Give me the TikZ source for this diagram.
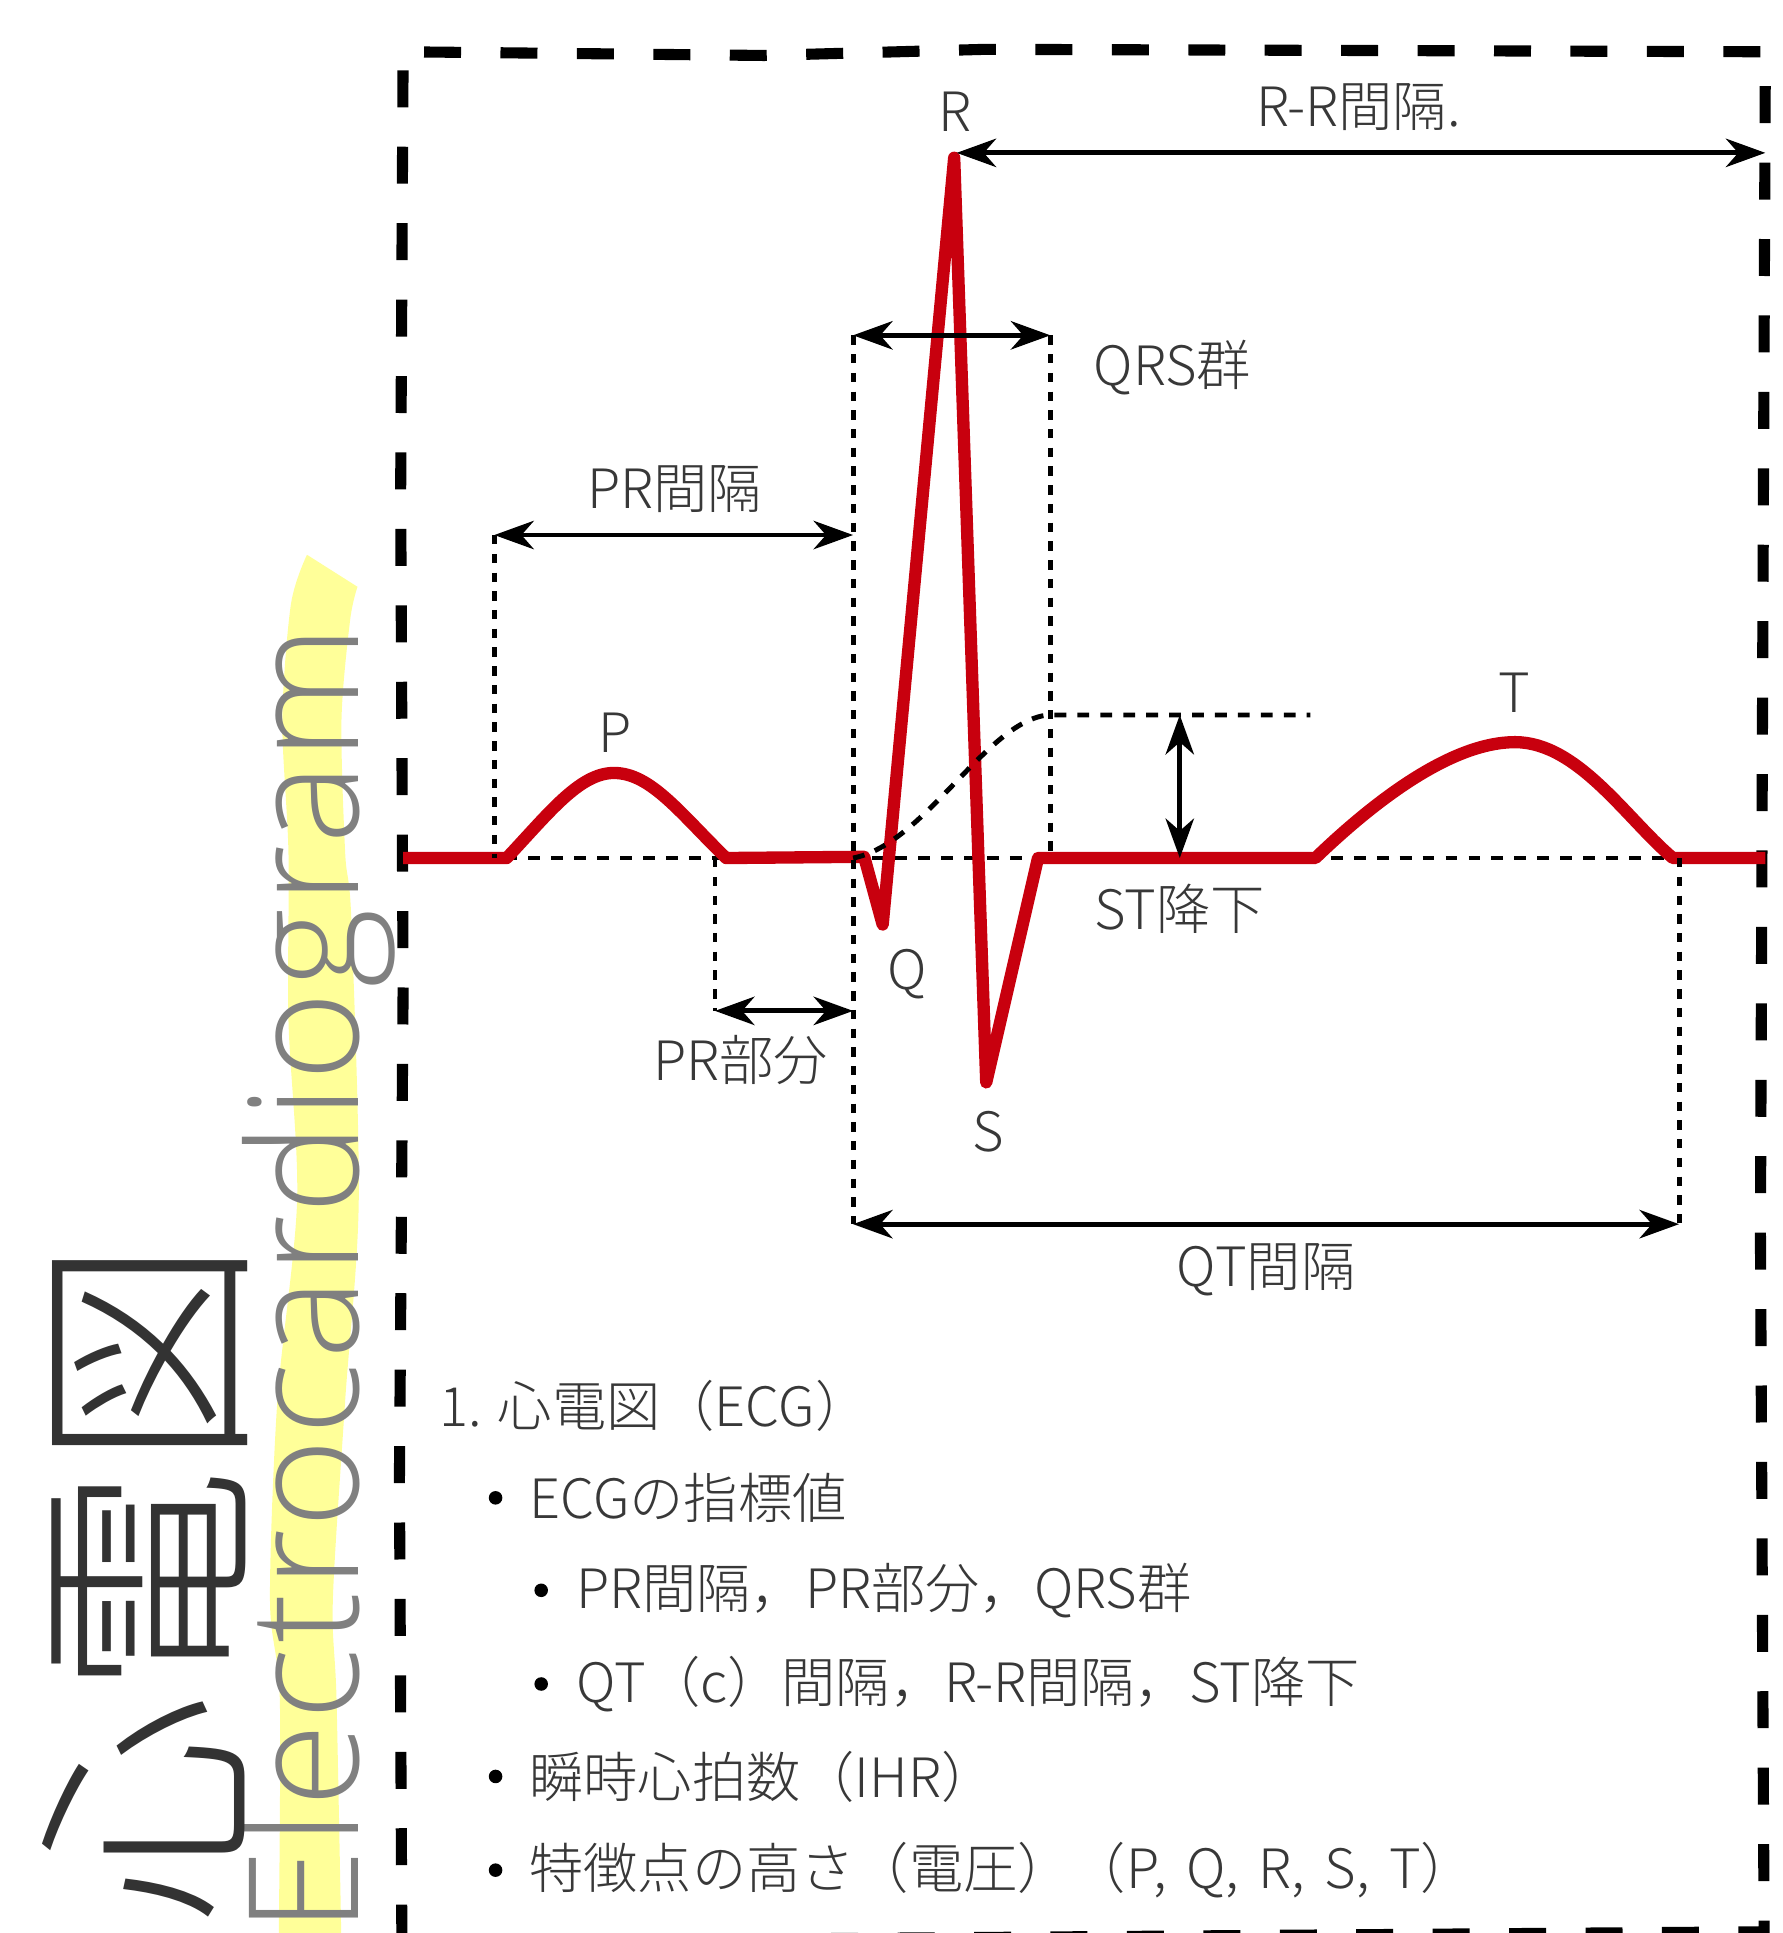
\documentclass[tikz,border=0pt]{standalone}
\usepackage{fontspec}
\setmainfont{Noto Sans CJK JP Light}
\newfontfamily\enfont[LetterSpace=2.4]{Open Sans Light}
\usetikzlibrary{arrows.meta}
\definecolor{ecgred}{RGB}{200,0,14}
\definecolor{txtgray}{RGB}{56,56,56}
\definecolor{hlyellow}{RGB}{255,255,153}
\definecolor{titlegray}{RGB}{51,51,51}
\definecolor{engray}{RGB}{128,128,128}
\begin{document}
\begin{tikzpicture}[x=0.5pt,y=-0.5pt,
  frameline/.style={line width=4.5pt, dash pattern=on 15pt off 16pt},
  dotline/.style={line width=2pt, dash pattern=on 4.8pt off 4.5pt},
  vdotline/.style={line width=2pt, dash pattern=on 3.8pt off 3.8pt},
  dimarrow/.style={line width=2pt, {Stealth[length=16pt,width=11.5pt,inset=5pt]}-{Stealth[length=16pt,width=11.5pt,inset=5pt]}},
  ecg/.style={line width=5pt, draw=ecgred, line join=round},
  lbl/.style={inner sep=0pt, text=txtgray, font=\fontsize{22pt}{26pt}\selectfont},
  item/.style={lbl, anchor=west},
  bul/.style={circle, fill=black, inner sep=0pt, minimum size=5.5pt}
]
\useasboundingbox (0,0) rectangle (1446,1568);

% yellow highlighter band
\fill[hlyellow] (249,450) -- plot[smooth] coordinates {(290,476) (284,503) (277,584) (280,692) (285,746) (291,974) (280,1136) (270,1298) (273,1379) (277,1580)}
  -- plot[smooth] coordinates {(226,1580) (227,1379) (219,1298) (225,1136) (241,974) (234,828) (234,692) (229,584) (236,490) (249,450)} -- cycle;

% vertical titles
\node[rotate=90, anchor=base west, inner sep=0pt, text=engray, font=\enfont\fontsize{62pt}{70pt}\selectfont] (eng) at (291,1569) {Electrocardiogram};
\node[rotate=90, inner sep=0pt, text=titlegray, font=\fontsize{92.5pt}{100pt}\selectfont] (title) at (118,1283) {心電図};

% dashed frame
\draw[frameline] (326,1575) -- (324,1200) -- (327,800) -- (325,400) -- (327,42) -- (620,45) -- (800,40) -- (1432,42) -- (1430,500) -- (1428,1000) -- (1431,1567) -- cycle;

% named points
\coordinate (pwStart) at (401,696);
\coordinate (blL) at (410,696);
\coordinate (blR) at (1362,696);
\coordinate (prL) at (401,434);
\coordinate (prR) at (692,434);
\coordinate (qrsL) at (692,272);
\coordinate (qrsR) at (852,272);
\coordinate (qrsRb) at (852,696);
\coordinate (psL) at (580,820);
\coordinate (psR) at (692,820);
\coordinate (psLb) at (580,696);
\coordinate (qtL) at (692,993);
\coordinate (qtR) at (1362,993);
\coordinate (qtRb) at (1362,696);
\coordinate (stT) at (957,580);
\coordinate (stB) at (957,696);
\coordinate (stS) at (692,696);
\coordinate (stK) at (850,580);
\coordinate (stE) at (1063,580);
\coordinate (rpk) at (776,124);
\coordinate (rrR) at (1432,124);

% baseline dotted (under the trace)
\draw[dotline] (blL) -- (blR);

% ECG trace
\draw[ecg] (327,696) -- (411,696) .. controls (445,660) and (470,627) .. (498,627)
  .. controls (528,627) and (552,660) .. (589,696) -- (701,695) -- (716,750) -- (774,128)
  -- (800,878) -- (842,696) -- (1067,696) .. controls (1120,645) and (1180,602) .. (1229,602)
  .. controls (1280,602) and (1320,665) .. (1357,696) -- (1432,696);

% dotted guides
\draw[vdotline] (prL) -- (pwStart);
\draw[vdotline] (qrsL) -- (qtL);
\draw[vdotline] (qrsR) -- (qrsRb);
\draw[vdotline] (psLb) -- (psL);
\draw[vdotline] (qtRb) -- (qtR);
\draw[dotline] (stS) .. controls (750,685) and (800,585) .. (stK) -- (stE);

% dimension arrows
\draw[dimarrow] (rpk) -- (rrR);
\draw[dimarrow] (qrsL) -- (qrsR);
\draw[dimarrow] (prL) -- (prR);
\draw[dimarrow] (psL) -- (psR);
\draw[dimarrow] (qtL) -- (qtR);
\draw[dimarrow] (stT) -- (stB);

% labels
\node[lbl] (lR) at (775,91) {R};
\node[lbl] (lRR) at (1102,87) {R-R間隔.};
\node[lbl] (lQRS) at (951,298) {QRS群};
\node[lbl] (lPR) at (547,397) {PR間隔};
\node[lbl] (lP) at (499,594) {P};
\node[lbl] (lT) at (1228,562) {T};
\node[lbl] (lQ) at (736,790) {Q};
\node[lbl] (lS) at (802,918) {S};
\node[lbl] (lST) at (957,737) {ST降下};
\node[lbl] (lPRS) at (601,860) {PR部分};
\node[lbl] (lQT) at (1027,1030) {QT間隔};

% list
\node[item] (i0) at (356,1140) {1. 心電図（ECG）};
\node[bul] (b1) at (402,1215) {};
\node[item] (i1) at (429,1215) {ECGの指標値};
\node[bul] (b2) at (439,1290) {};
\node[item] (i2) at (467,1290) {PR間隔，PR部分，QRS群};
\node[bul] (b3) at (439,1366) {};
\node[item] (i3) at (467,1366) {QT（c）間隔，R-R間隔，ST降下};
\node[bul] (b4) at (402,1441) {};
\node[item] (i4) at (429,1441) {瞬時心拍数（IHR）};
\node[bul] (b5) at (402,1517) {};
\node[item] (i5) at (429,1517) {特徴点の高さ（電圧）（P,\kern0.36em Q,\kern0.36em R,\kern0.36em S,\kern0.36em T）};
\end{tikzpicture}
\end{document}
